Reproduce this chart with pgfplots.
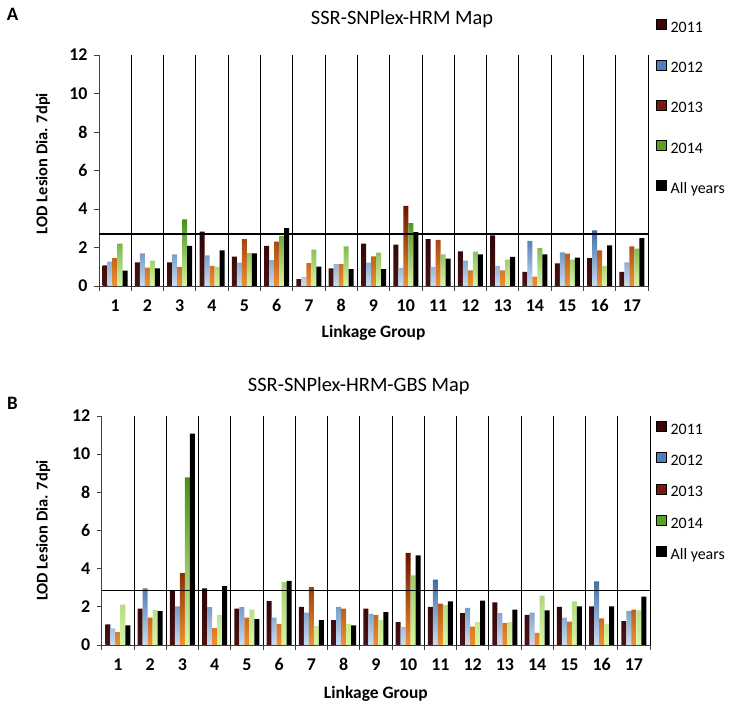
\documentclass[border=0pt]{standalone}
\usepackage{pgfplots}
\pgfplotsset{compat=1.18}
\usepackage{pgfplotstable}
\usepackage{fontspec}
\setmainfont{Carlito}

\definecolor{c11t}{HTML}{2E0404}
\definecolor{c11b}{HTML}{4A1212}
\definecolor{c12t}{HTML}{3C6CA6}
\definecolor{c12b}{HTML}{C8DEF5}
\definecolor{c13t}{HTML}{6A1200}
\definecolor{c13b}{HTML}{F0902E}
\definecolor{c14t}{HTML}{46901A}
\definecolor{c14b}{HTML}{D8F6A4}
\definecolor{l11}{HTML}{3A0808}
\definecolor{l12}{HTML}{4F7FBD}
\definecolor{l13}{HTML}{7A1A0A}
\definecolor{l14}{HTML}{5AA022}

\pgfplotstableread{
g  a b c d e
1  1.07 1.26 1.45 2.20 0.80
2  1.23 1.70 0.95 1.32 0.92
3  1.23 1.64 0.99 3.46 2.08
4  2.82 1.59 1.04 0.99 1.85
5  1.52 1.21 2.44 1.71 1.70
6  2.08 1.35 2.30 2.60 3.00
7  0.36 0.47 1.19 1.89 1.00
8  0.92 1.13 1.13 2.06 0.87
9  2.20 1.21 1.54 1.73 0.87
10 2.15 0.94 4.16 3.27 2.80
11 2.44 0.99 2.39 1.64 1.42
12 1.80 1.32 0.81 1.78 1.64
13 2.63 1.04 0.81 1.37 1.51
14 0.73 2.34 0.48 1.97 1.64
15 1.18 1.75 1.68 1.37 1.47
16 1.45 2.89 1.85 1.04 2.11
17 0.73 1.23 2.06 1.94 2.48
}\dataA

\pgfplotstableread{
g  a b c d e
1  1.08 0.87 0.68 2.12 1.03
2  1.91 2.97 1.43 1.84 1.77
3  2.82 2.03 3.77 8.78 11.08
4  2.97 1.98 0.89 1.57 3.08
5  1.91 1.98 1.44 1.86 1.36
6  2.30 1.43 1.11 3.29 3.36
7  2.00 1.69 3.03 0.99 1.30
8  1.30 2.00 1.91 1.10 1.03
9  1.91 1.63 1.57 1.30 1.72
10 1.20 0.94 4.83 3.65 4.70
11 2.00 3.43 2.17 2.09 2.28
12 1.67 1.95 0.96 1.20 2.33
13 2.23 1.67 1.15 1.20 1.86
14 1.58 1.70 0.63 2.59 1.81
15 2.00 1.43 1.23 2.28 2.03
16 2.03 3.34 1.39 1.10 2.03
17 1.25 1.79 1.86 1.81 2.54
}\dataB

\pgfplotsset{
  /pgf/number format/assume math mode=true,
  lodstyle/.style={
    scale only axis,
    xmin=0.5, xmax=17.5, ymin=0, ymax=12,
    axis x line*=bottom, axis y line*=left,
    axis line style={black!75, line width=0.8bp},
    xtick={0.5,1.5,...,17.5}, xticklabels={},
    xmajorgrids=true,
    major grid style={black, line width=0.8bp},
    extra x ticks={1,...,17},
    extra x tick style={grid=none, major tick length=0pt},
    ytick={0,2,...,12},
    tick align=outside, major tick length=5bp,
    tick style={black!75, line width=0.8bp},
    tick label style={font=\fontsize{18}{18}\selectfont\bfseries},
    xticklabel style={yshift=-10bp},
    yticklabel style={xshift=-3bp},
    ylabel={LOD Lesion Dia. 7dpi},
    ylabel style={font=\fontsize{16.5}{16.5}\selectfont\bfseries},
    xlabel={Linkage Group},
    xlabel style={font=\fontsize{17.5}{17.5}\selectfont\bfseries},
    title style={font=\fontsize{20.5}{20.5}\selectfont, anchor=center},
    legend image code/.code={\fill[##1] (0bp,-1bp) rectangle (10bp,9bp);},
    legend cell align=left,
  },
  b11/.style={ybar, bar width=5bp, bar shift=-10bp, draw=none, top color=c11t, bottom color=c11b, forget plot},
  b12/.style={ybar, bar width=5bp, bar shift=-5bp, draw=none, top color=c12t, bottom color=c12b, forget plot},
  b13/.style={ybar, bar width=5bp, bar shift=0bp, draw=none, top color=c13t, bottom color=c13b, forget plot},
  b14/.style={ybar, bar width=5bp, bar shift=5bp, draw=none, top color=c14t, bottom color=c14b, forget plot},
  b15/.style={ybar, bar width=5bp, bar shift=10bp, draw=none, fill=black, forget plot},
}

\begin{document}
\begin{tikzpicture}[x=1bp,y=1bp]
\path[use as bounding box] (0,0) rectangle (733,704);

\node[font=\fontsize{19}{19}\selectfont\bfseries] at (12.5,690) {A};
\node[font=\fontsize{19}{19}\selectfont\bfseries] at (12.5,301) {B};

% ---------------- Panel A ----------------
\begin{axis}[lodstyle,
  at={(99bp,418bp)}, anchor=south west,
  width=549bp, height=231bp,
  title={SSR-SNPlex-HRM Map},
  title style={at={(rel axis cs:0.552,1.13)}},
  ylabel style={at={(rel axis cs:-0.102,0.53)}, anchor=center},
  xlabel style={at={(rel axis cs:0.5,-0.205)}, anchor=center},
  legend style={at={(rel axis cs:1.0146,1.155)}, anchor=north west, draw=none, fill=none,
    font=\fontsize{16}{16}\selectfont, row sep=23bp, column sep=4bp, inner sep=0pt,
    nodes={inner sep=0pt, text height=12bp, text depth=4bp}},
]
\addplot[b11] table[x=g,y=a] {\dataA};
\addplot[b12] table[x=g,y=b] {\dataA};
\addplot[b13] table[x=g,y=c] {\dataA};
\addplot[b14] table[x=g,y=d] {\dataA};
\addplot[b15] table[x=g,y=e] {\dataA};
\addplot[black, line width=1.6bp, sharp plot, forget plot] coordinates {(0.5,2.69) (17.5,2.69)}
  node[pos=1, anchor=west, xshift=3bp, font=\fontsize{16}{16}\selectfont] {\textit{P}=0.05};
\addlegendimage{fill=l11}
\addlegendimage{fill=l12}
\addlegendimage{fill=l13}
\addlegendimage{fill=l14}
\addlegendimage{fill=black}
\legend{2011,2012,2013,2014,All years}
\end{axis}

% ---------------- Panel B ----------------
\begin{axis}[lodstyle,
  at={(101.7bp,59bp)}, anchor=south west,
  width=548.3bp, height=229bp,
  title={SSR-SNPlex-HRM-GBS Map},
  title style={at={(rel axis cs:0.469,1.105)}},
  ylabel style={at={(rel axis cs:-0.107,0.5)}, anchor=center},
  xlabel style={at={(rel axis cs:0.5,-0.212)}, anchor=center},
  legend style={at={(rel axis cs:1.011,0.978)}, anchor=north west, draw=none, fill=none,
    font=\fontsize{16}{16}\selectfont, row sep=14bp, column sep=4bp, inner sep=0pt,
    nodes={inner sep=0pt, text height=12bp, text depth=4bp}},
]
\addplot[b11] table[x=g,y=a] {\dataB};
\addplot[b12] table[x=g,y=b] {\dataB};
\addplot[b13] table[x=g,y=c] {\dataB};
\addplot[b14] table[x=g,y=d] {\dataB};
\addplot[b15] table[x=g,y=e] {\dataB};
\addplot[black, line width=1.6bp, sharp plot, forget plot] coordinates {(0.5,2.85) (17.5,2.85)}
  node[pos=1, anchor=west, xshift=3bp, font=\fontsize{16}{16}\selectfont] {\textit{P}=0.05};
\addlegendimage{fill=l11}
\addlegendimage{fill=l12}
\addlegendimage{fill=l13}
\addlegendimage{fill=l14}
\addlegendimage{fill=black}
\legend{2011,2012,2013,2014,All years}
\end{axis}
\end{tikzpicture}
\end{document}
